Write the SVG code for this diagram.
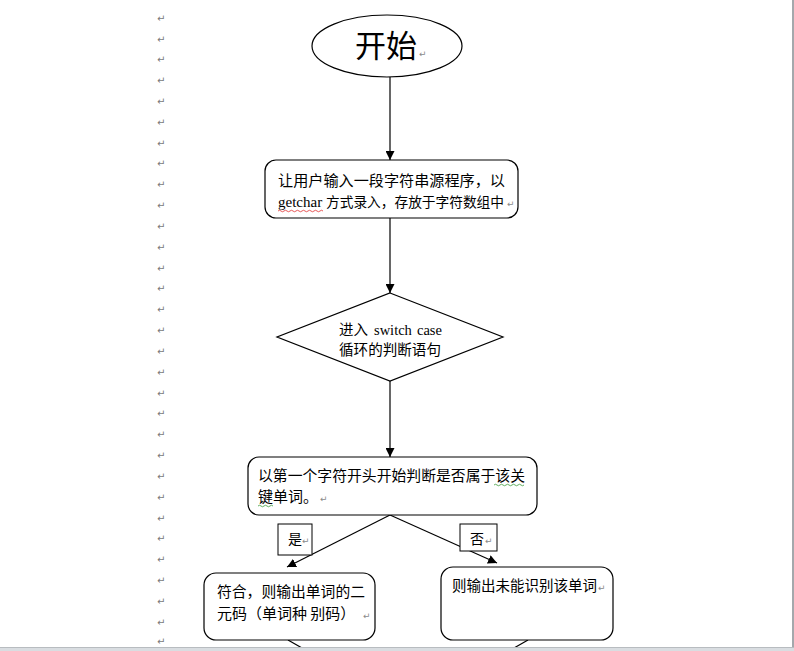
<svg xmlns="http://www.w3.org/2000/svg" width="794" height="651" viewBox="0 0 794 651">
<style>
.shape{fill:#fff;stroke:#000;stroke-width:1.2}
.cn{font-family:"Noto Sans CJK SC","Noto Sans",sans-serif;fill:#000}
.lat{font-family:"Liberation Serif",serif;fill:#000}
.pm{font-family:"DejaVu Sans",sans-serif;fill:#8a8a8a;font-size:9px}
.mg{font-family:"DejaVu Sans",sans-serif;fill:#7a7a7a;font-size:10px}
.conn{stroke:#000;stroke-width:1.2;fill:none}
</style>
<defs>
<marker id="arr" viewBox="0 0 10 10" refX="10" refY="5" markerWidth="9" markerHeight="9" markerUnits="userSpaceOnUse" orient="auto">
<path d="M0,0 L10,5 L0,10 z" fill="#000"/>
</marker>
</defs>
<rect width="794" height="651" fill="#fff"/>
<g id="margin-marks">
<text class="mg" x="157" y="22">↵</text>
<text class="mg" x="157" y="43">↵</text>
<text class="mg" x="157" y="63">↵</text>
<text class="mg" x="157" y="84">↵</text>
<text class="mg" x="157" y="105">↵</text>
<text class="mg" x="157" y="126">↵</text>
<text class="mg" x="157" y="147">↵</text>
<text class="mg" x="157" y="167">↵</text>
<text class="mg" x="157" y="188">↵</text>
<text class="mg" x="157" y="209">↵</text>
<text class="mg" x="157" y="230">↵</text>
<text class="mg" x="157" y="251">↵</text>
<text class="mg" x="157" y="272">↵</text>
<text class="mg" x="157" y="292">↵</text>
<text class="mg" x="157" y="313">↵</text>
<text class="mg" x="157" y="334">↵</text>
<text class="mg" x="157" y="355">↵</text>
<text class="mg" x="157" y="376">↵</text>
<text class="mg" x="157" y="397">↵</text>
<text class="mg" x="157" y="417">↵</text>
<text class="mg" x="157" y="438">↵</text>
<text class="mg" x="157" y="459">↵</text>
<text class="mg" x="157" y="480">↵</text>
<text class="mg" x="157" y="501">↵</text>
<text class="mg" x="157" y="522">↵</text>
<text class="mg" x="157" y="542">↵</text>
<text class="mg" x="157" y="563">↵</text>
<text class="mg" x="157" y="584">↵</text>
<text class="mg" x="157" y="605">↵</text>
<text class="mg" x="157" y="626">↵</text>
<text class="mg" x="157" y="645">↵</text>
</g>
<g id="connectors">
<line class="conn" x1="390" y1="77" x2="390" y2="160" marker-end="url(#arr)"/>
<line class="conn" x1="390" y1="218" x2="390" y2="293" marker-end="url(#arr)"/>
<line class="conn" x1="390" y1="381" x2="390" y2="457" marker-end="url(#arr)"/>
<line class="conn" x1="390" y1="515" x2="287" y2="567" marker-end="url(#arr)"/>
<line class="conn" x1="390" y1="515" x2="497" y2="563" marker-end="url(#arr)"/>
<line class="conn" x1="288" y1="640" x2="302" y2="648"/>
<line class="conn" x1="528" y1="640" x2="514" y2="648"/>
</g>
<g id="start">
<ellipse class="shape" cx="387" cy="46" rx="75" ry="31"/>
<text class="cn" x="355" y="57" font-size="31">开始</text>
<text class="pm" x="419" y="57">↵</text>
</g>
<g id="input">
<rect class="shape" x="265" y="160" width="253" height="58" rx="11"/>
<text class="cn" x="278" y="186" font-size="15" textLength="227" lengthAdjust="spacingAndGlyphs">让用户输入一段字符串源程序，以</text>
<text class="lat" x="278" y="207" font-size="15">getchar</text>
<text class="cn" x="326" y="207" font-size="13.7">方式录入，存放于字符数组中</text>
<text class="pm" x="507" y="207">↵</text>
<path d="M278,211 q1.5,-1.5 3,0 t3,0 t3,0 t3,0 t3,0 t3,0 t3,0 t3,0 t3,0 t3,0 t3,0 t3,0 t3,0 t3,0 t3,0" stroke="#e03030" stroke-width="0.8" fill="none"/>
</g>
<g id="switch">
<polygon class="shape" points="390,293 503,337 390,381 277,337"/>
<text class="cn" x="339" y="335" font-size="14.5">进入</text>
<text class="lat" x="374" y="335" font-size="14.5">switch</text>
<text class="lat" x="417" y="335" font-size="14.5">case</text>
<text class="cn" x="339" y="355" font-size="14.5" textLength="102" lengthAdjust="spacingAndGlyphs">循环的判断语句</text>
</g>
<g id="judge">
<rect class="shape" x="248" y="457" width="289" height="58" rx="11"/>
<text class="cn" x="258" y="481" font-size="15" textLength="267" lengthAdjust="spacingAndGlyphs">以第一个字符开头开始判断是否属于该关</text>
<text class="cn" x="258" y="502" font-size="15">键单词。</text>
<text class="pm" x="320" y="502">↵</text>
<path d="M494,485 q1.5,-1.5 3,0 t3,0 t3,0 t3,0 t3,0 t3,0 t3,0 t3,0 t3,0 t3,0" stroke="#3a9a3a" stroke-width="0.8" fill="none"/>
<path d="M258,506 q1.5,-1.5 3,0 t3,0 t3,0 t3,0 t3,0" stroke="#3a9a3a" stroke-width="0.8" fill="none"/>
</g>
<g id="yes">
<rect x="278" y="524" width="34" height="31" fill="#fff" stroke="#000" stroke-width="1"/>
<text class="cn" x="288" y="544" font-size="14">是</text>
<text class="pm" x="302" y="544">↵</text>
</g>
<g id="no">
<rect x="460" y="524" width="37" height="27" fill="#fff" stroke="#000" stroke-width="1"/>
<text class="cn" x="470" y="544" font-size="14">否</text>
<text class="pm" x="485" y="544">↵</text>
</g>
<g id="match">
<rect class="shape" x="204" y="573" width="171" height="67" rx="12"/>
<text class="cn" x="217" y="597" font-size="15" textLength="148" lengthAdjust="spacingAndGlyphs">符合，则输出单词的二</text>
<text class="cn" x="217" y="619" font-size="15">元码（单词种 别码）</text>
<text class="pm" x="363" y="619">↵</text>
</g>
<g id="nomatch">
<rect class="shape" x="441" y="567" width="172" height="73" rx="12"/>
<text class="cn" x="452" y="591" font-size="14.5" textLength="145" lengthAdjust="spacingAndGlyphs">则输出未能识别该单词</text>
<text class="pm" x="598" y="591">↵</text>
</g>
<rect x="792" y="0" width="2" height="651" fill="#a4a8ac"/>
<rect x="0" y="647" width="794" height="4" fill="#d9dde1"/>
<line x1="0" y1="647.5" x2="794" y2="647.5" stroke="#b8bcc0" stroke-width="1"/>
</svg>
